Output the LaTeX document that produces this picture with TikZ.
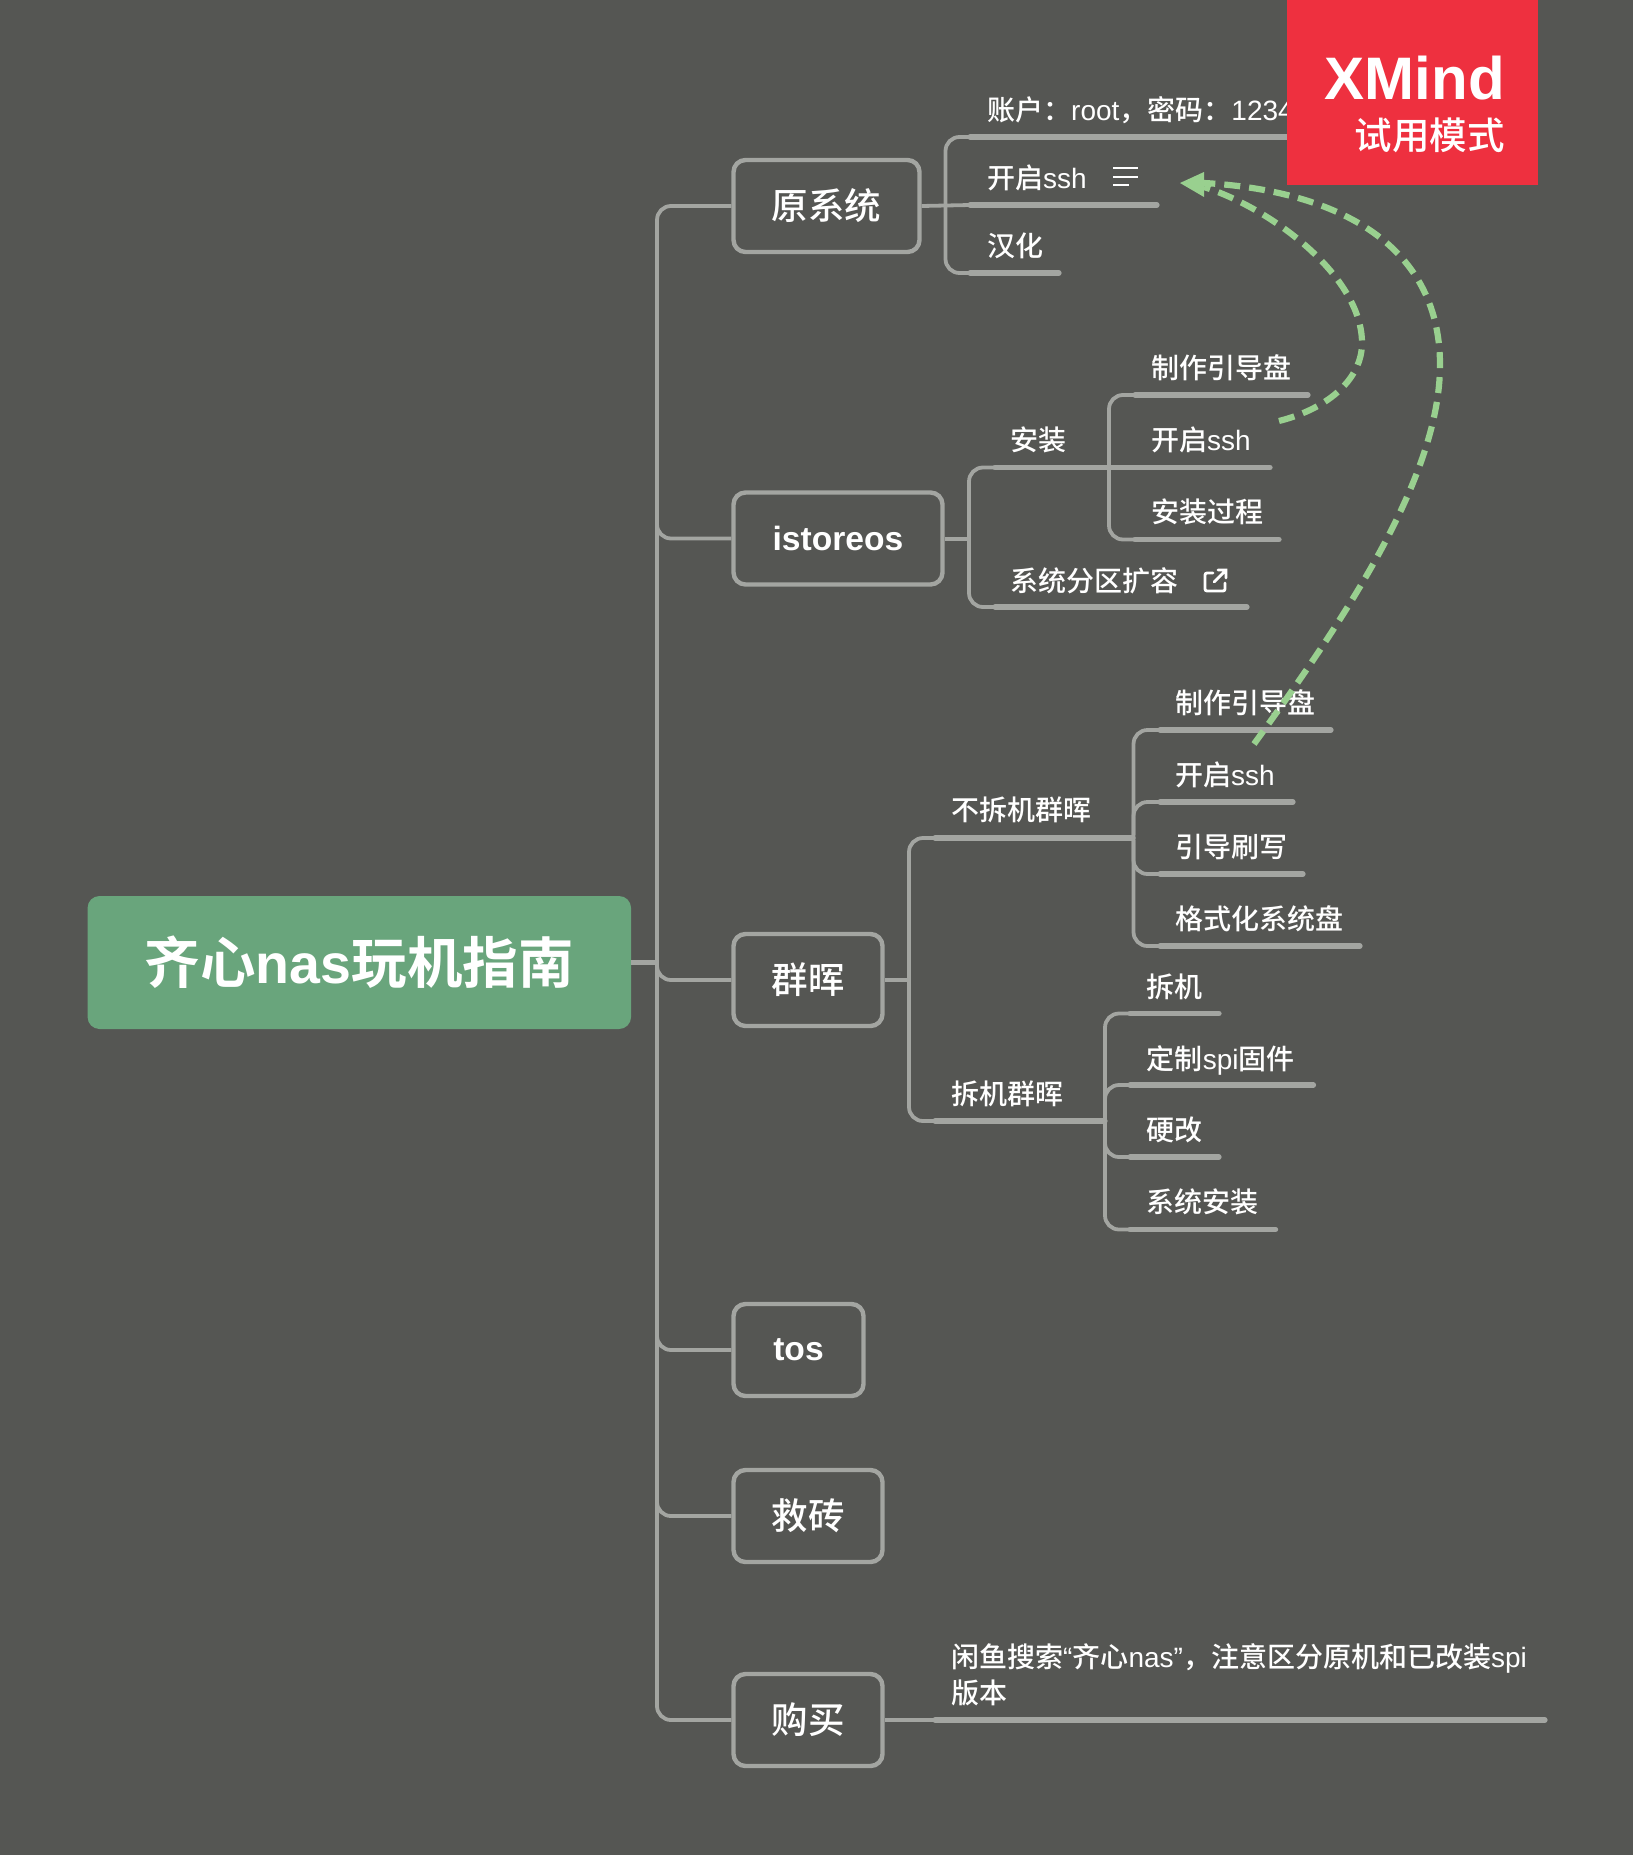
\documentclass[tikz,border=0pt]{standalone}
\usepackage{fontspec}
\setmainfont{Liberation Sans}
\newfontfamily\cjk[BoldFont={Noto Sans CJK SC Bold}]{Noto Sans CJK SC Medium}
\newcommand{\C}[1]{{\cjk #1}}
\definecolor{bgc}{HTML}{555653}
\definecolor{linec}{HTML}{A3A5A1}
\definecolor{rootc}{HTML}{69A57C}
\definecolor{redc}{HTML}{EE303F}
\definecolor{relc}{HTML}{99D08F}
\tikzset{
 uline/.style={draw=linec,line width=5.2pt,line cap=round},
 bline/.style={draw=linec,line width=3.8pt,rounded corners=14pt},
 topic/.style={draw=linec,line width=4.4pt,rounded corners=12pt,fill=bgc,text=white,font=\fontsize{36.5}{40}\selectfont,minimum height=92pt,inner sep=0pt},
 leaf/.style={anchor=west,inner sep=0pt,text=white,font=\fontsize{28}{34}\selectfont,text height=25.6pt,text depth=5pt,align=left},
 rel/.style={draw=relc,line width=6.2pt,dash pattern=on 16pt off 9pt},
 icon/.style={draw=white,line width=2.8pt},
}
% name, underline start x, end x, y, text x, text y, text
\newcommand{\leafitem}[7]{
 \coordinate (#1-a) at (#2,#4);
 \coordinate (#1-b) at (#3,#4);
 \draw[uline] (#1-a) -- (#1-b);
 \node[leaf] (#1) at (#5,#6) {#7};
}
\begin{document}
\begin{tikzpicture}[x=1pt,y=-1pt]
\fill[bgc] (0,0) rectangle (1633,1855);
\useasboundingbox (0,0) rectangle (1633,1855);

% root
\node[fill=rootc,rounded corners=12pt,minimum width=543.5pt,minimum height=133pt,inner sep=0pt,text=white,font=\fontsize{55.5}{60}\selectfont\bfseries] (root) at (359.3,962.5) {\C{齐心}nas\C{玩机指南}};

% main topics
\coordinate (sp) at (657,962.5);
\node[topic,minimum width=186pt] (t1) at (826.5,206) {\C{原系统}};
\node[topic,minimum width=209pt] (t2) at (838,538.5) {\fontsize{33.6}{40}\selectfont\bfseries istoreos};
\node[topic,minimum width=149pt] (t3) at (808,980) {\C{群晖}};
\node[topic,minimum width=130pt] (t4) at (798.5,1350) {\fontsize{33.6}{40}\selectfont\bfseries tos};
\node[topic,minimum width=149pt] (t5) at (808,1516) {\C{救砖}};
\node[topic,minimum width=149pt] (t6) at (808,1720) {\C{购买}};

% spine
\draw[uline,line cap=butt] (root.east) -- (sp);
\draw[bline] (t1.west) -- (657,206) -- (657,1720) -- (t6.west);
\draw[bline] (657,500) -- (657,538.5) -- (t2.west);
\draw[bline] (657,940) -- (657,980) -- (t3.west);
\draw[bline] (657,1310) -- (657,1350) -- (t4.west);
\draw[bline] (657,1480) -- (657,1516) -- (t5.west);

% 原系统
\leafitem{a1}{970}{1300}{137}{987}{110}{\C{账户：}root\C{，密码：}1234}
\leafitem{a2}{970}{1157}{205}{987}{178}{\C{开启}ssh}
\leafitem{a3}{970}{1059}{273}{987}{246}{\C{汉化}}
\draw[bline] (a1-a) -- (945.5,137) -- (945.5,273) -- (a3-a);
\draw[uline,line width=3.8pt,line cap=butt] (t1.east) -- (a2-a);
\draw[icon] (1113,168) -- (1138,168) (1113,177) -- (1138,177) (1113,185) -- (1129,185);

% istoreos
\leafitem{b1}{995}{1247}{467.5}{1010.5}{440}{\C{安装}}
\leafitem{b2}{995}{1247}{607}{1010.5}{581}{\C{系统分区扩容}}
\draw[bline] (b1-a) -- (969,467.5) -- (969,607) -- (b2-a);
\draw[uline,line width=4pt,line cap=butt] (t2.east) -- (969,538.5);
\leafitem{c1}{1135}{1308}{395}{1151}{368}{\C{制作引导盘}}
\leafitem{c2}{1135}{1270}{467.5}{1151}{440}{\C{开启}ssh}
\leafitem{c3}{1135}{1279}{539.5}{1151}{512}{\C{安装过程}}
\draw[bline] (c1-a) -- (1109,395) -- (1109,539.5) -- (c3-a);
\draw[uline,line cap=butt] (b1-b) -- (c2-a);
\draw[icon,line cap=round,rounded corners=2pt] (1213,573) -- (1205,573) -- (1205,591) -- (1225,591) -- (1225,583);
\draw[icon,line cap=round] (1214,582) -- (1226,570) (1218,570) -- (1226,570) -- (1226,578);

% 群晖
\leafitem{d1}{935}{1133}{838}{951}{810.5}{\C{不拆机群晖}}
\leafitem{d2}{935}{1105}{1121}{951}{1094}{\C{拆机群晖}}
\draw[bline] (d1-a) -- (909,838) -- (909,1121) -- (d2-a);
\draw[uline,line width=4pt,line cap=butt] (t3.east) -- (909,980);
\leafitem{e1}{1160}{1331}{730}{1175}{703}{\C{制作引导盘}}
\leafitem{e2}{1160}{1293}{802}{1175}{775}{\C{开启}ssh}
\leafitem{e3}{1160}{1303}{874}{1175}{847}{\C{引导刷写}}
\leafitem{e4}{1160}{1360}{946}{1175}{919}{\C{格式化系统盘}}
\draw[bline] (e1-a) -- (1133.5,730) -- (1133.5,946) -- (e4-a);
\draw[bline] (1133.5,835) -- (1133.5,802) -- (e2-a);
\draw[bline] (1133.5,840) -- (1133.5,874) -- (e3-a);
\leafitem{f1}{1130}{1219}{1013.5}{1146.6}{987}{\C{拆机}}
\leafitem{f2}{1130}{1313.5}{1085}{1146.6}{1059}{\C{定制}spi\C{固件}}
\leafitem{f3}{1130}{1219}{1157}{1146.6}{1130}{\C{硬改}}
\leafitem{f4}{1130}{1275.6}{1229.5}{1146.6}{1202}{\C{系统安装}}
\draw[bline] (f1-a) -- (1105,1013.5) -- (1105,1229.5) -- (f4-a);
\draw[bline] (1105,1110) -- (1105,1085) -- (f2-a);
\draw[bline] (1105,1130) -- (1105,1157) -- (f3-a);
\draw[uline,line cap=butt] (d2-b) -- (1105,1121);
\draw[uline,line cap=butt] (d1-b) -- (1133.5,838);

% 购买
\leafitem{g1}{935}{1545}{1720}{951}{1693}{\C{闲鱼搜索}“\C{齐心}nas”\C{，注意区分原机和已改装}spi\\[2pt]\C{版本}}
\draw[uline,line width=4pt,line cap=butt] (t6.east) -- (g1-a);

% relationships
\coordinate (s1) at (1279,421);
\coordinate (s2) at (1254,744);
\coordinate (tip) at (1180,183);
\draw[rel] (s1) .. controls (1330,408) and (1362,378) .. (1362,343) .. controls (1362,278) and (1275,210) .. (1204,187);
\draw[rel] (s2) .. controls (1340,625) and (1440,480) .. (1440,365) .. controls (1440,240) and (1330,190) .. (1204,183);
\fill[relc] (tip) -- (1204,172) -- (1204,197) -- cycle;

% trial badge
\node[fill=redc,minimum width=251pt,minimum height=185pt,inner sep=0pt,anchor=north west] (badge) at (1287,0) {};
\node[anchor=east,inner sep=0pt,text=white,font=\fontsize{60}{62}\selectfont\bfseries] (xm) at (1505,78) {XMind};
\node[anchor=east,inner sep=0pt,text=white,font=\fontsize{37.5}{40}\selectfont] (trial) at (1505,135) {\C{试用模式}};
\end{tikzpicture}
\end{document}
